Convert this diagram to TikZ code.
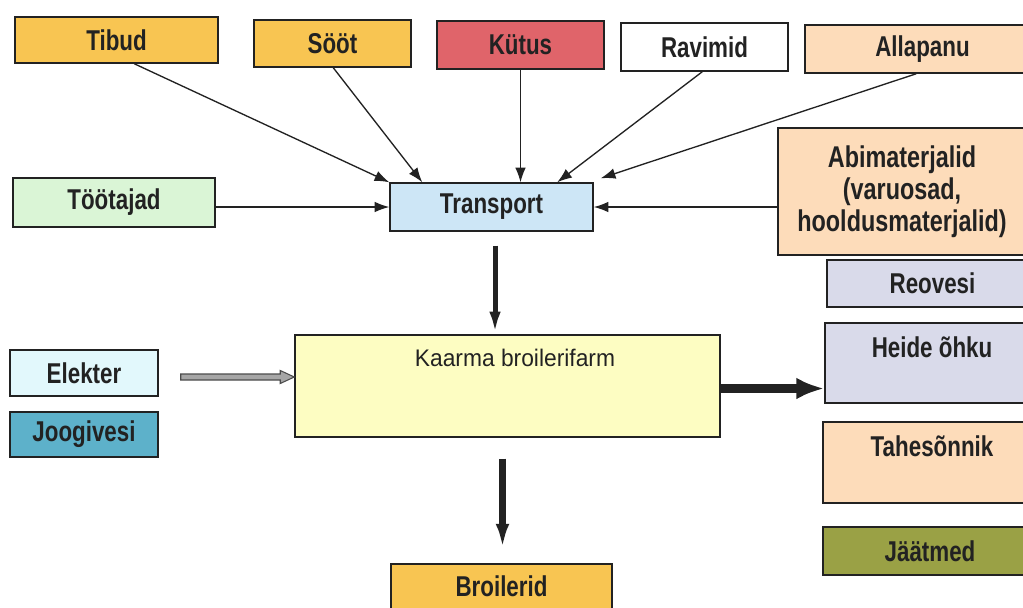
\documentclass[tikz,border=0pt]{standalone}
\usepackage{fontspec}
\setmainfont{Liberation Sans}[FakeStretch=0.78]
\newfontfamily\farmfont{Liberation Sans}[FakeStretch=0.95]
\usetikzlibrary{arrows.meta,calc}
\definecolor{cOrange}{HTML}{F8C552}
\definecolor{cRed}{HTML}{E0646A}
\definecolor{cPeach}{HTML}{FDDCBA}
\definecolor{cGreen}{HTML}{DAF5D6}
\definecolor{cBlue}{HTML}{CDE6F6}
\definecolor{cLav}{HTML}{D9DAEA}
\definecolor{cYellow}{HTML}{FDFDC2}
\definecolor{cCyan}{HTML}{E2F8FC}
\definecolor{cTeal}{HTML}{5DB1CA}
\definecolor{cOlive}{HTML}{9AA145}
\definecolor{cInk}{HTML}{222222}
\begin{document}
\begin{tikzpicture}[x=0.75pt,y=-0.75pt,
  box/.style={draw=cInk, line width=1.1pt, inner sep=0pt, fill=#1,
    font=\bfseries\fontsize{21.5}{24}\selectfont, text=cInk, align=center},
  wh/.style 2 args={minimum width=#1*0.75pt, minimum height=#2*0.75pt},
  lbl/.style={font=\bfseries\fontsize{21.5}{24}\selectfont, text=cInk, inner sep=0pt},
  thinarrow/.style={draw=cInk, line width=1pt, -{Latex[length=11pt,width=8pt]}},
  thickarrow/.style={draw=cInk, line width=#1},
  hollowarrow/.style={draw=black!70, fill=black!35, line width=0.8pt, line join=miter}
]
\useasboundingbox (0,0) rectangle (1023,607);
\fill[white] (0,0) rectangle (1023,607);

% top row
\node[box=cOrange, wh={203}{46}] (tibud) at (116.5,40) {Tibud};
\node[box=cOrange, wh={157}{47}] (soot) at (332.5,43.5) {Sööt};
\node[box=cRed, wh={167}{48}] (kutus) at (520.5,45) {Kütus};
\node[box=white, wh={167}{48}] (ravimid) at (704.5,47) {Ravimid};
\node[box=cPeach, wh={235}{48}] (allapanu) at (922.5,49) {Allapanu};

% middle row
\node[box=cGreen, wh={202}{49}] (tootajad) at (114,202.5) {Töötajad};
\node[box=cBlue, wh={203}{48}] (transport) at (491.5,207) {Transport};
\node[box=cPeach, wh={248}{127}, font=\bfseries\fontsize{22.5}{24}\selectfont] (abi) at (902,191.5)
  {Abimaterjalid\\(varuosad,\\hooldusmaterjalid)};
\node[box=cLav, wh={211}{47}] (reovesi) at (932.5,283.5) {Reovesi};

% farm
\node[box=cYellow, wh={425}{102}] (farm) at (507.5,386) {};
\node[font=\farmfont\fontsize{18}{20}\selectfont, text=cInk, inner sep=0pt] (farmtxt) at (515,358) {Kaarma broilerifarm};

% left
\node[box=cCyan, wh={148}{46}] (elekter) at (84,373) {Elekter};
\node[box=cTeal, wh={148}{45}] (joogivesi) at (84,434.5) {Joogivesi};

% right outputs
\node[box=cLav, wh={215}{80}] (heide) at (932.5,363) {};
\node[lbl] (heidetxt) at (932,347) {Heide õhku};
\node[box=cPeach, wh={217}{81}] (tahe) at (931.5,462.5) {};
\node[lbl] (tahetxt) at (932,446) {Tahesõnnik};
\node[box=cOlive, wh={217}{48}] (jaatmed) at (931.5,551) {};
\node[lbl] (jaatmedtxt) at (930,551) {Jäätmed};

% bottom
\node[box=cOrange, wh={221}{45}] (broilerid) at (501.5,586.5) {Broilerid};

% arrows into transport
\draw[thinarrow] ($(tibud.south west)+(120,0)$) -- (transport.north west);
\draw[thinarrow] ($(soot.south west)+(80,0)$) -- ($(transport.north west)+(33,0)$);
\draw[thinarrow] (kutus.south) -- (kutus.south |- transport.north);
\draw[thinarrow] ($(ravimid.south west)+(82,0)$) -- ($(transport.north west)+(168,0)$);
\draw[thinarrow] ($(allapanu.south west)+(112,0)$) -- ($(transport.north east)+(7,-4)$);
\draw[thinarrow] (tootajad.east |- transport.west) -- (transport.west);
\draw[thinarrow] (abi.west |- transport.east) -- (transport.east);

% transport -> farm
\coordinate (t1) at ($(transport.south)+(3.5,14)$);
\draw[thickarrow=3.75pt, -{Latex[length=17pt,width=8.5pt]}] (t1) -- (t1 |- farm.north);

% elekter -> farm (hollow)
\coordinate (e1) at ($(elekter.east)+(22,4)$);
\coordinate (e2) at (e1 -| farm.west);
\draw[hollowarrow] ($(e1)+(0,-3)$) -- ($(e2)+(-14,-3)$) -- ($(e2)+(-14,-6.5)$) -- (e2)
  -- ($(e2)+(-14,6.5)$) -- ($(e2)+(-14,3)$) -- ($(e1)+(0,3)$) -- cycle;

% farm -> heide
\coordinate (h1) at ($(farm.east)+(0,2.5)$);
\draw[thickarrow=6.75pt, -{Latex[length=21pt,width=16.5pt]}] (h1) -- (h1 -| heide.west);

% farm -> broilerid
\coordinate (b1) at ($(farm.south)+(-5,21)$);
\coordinate (b2) at ($(b1 |- broilerid.north)+(0,-14)$);
\draw[thickarrow=5pt, -{Latex[length=19pt,width=10pt]}] (b1) -- (b2);
\end{tikzpicture}
\end{document}
